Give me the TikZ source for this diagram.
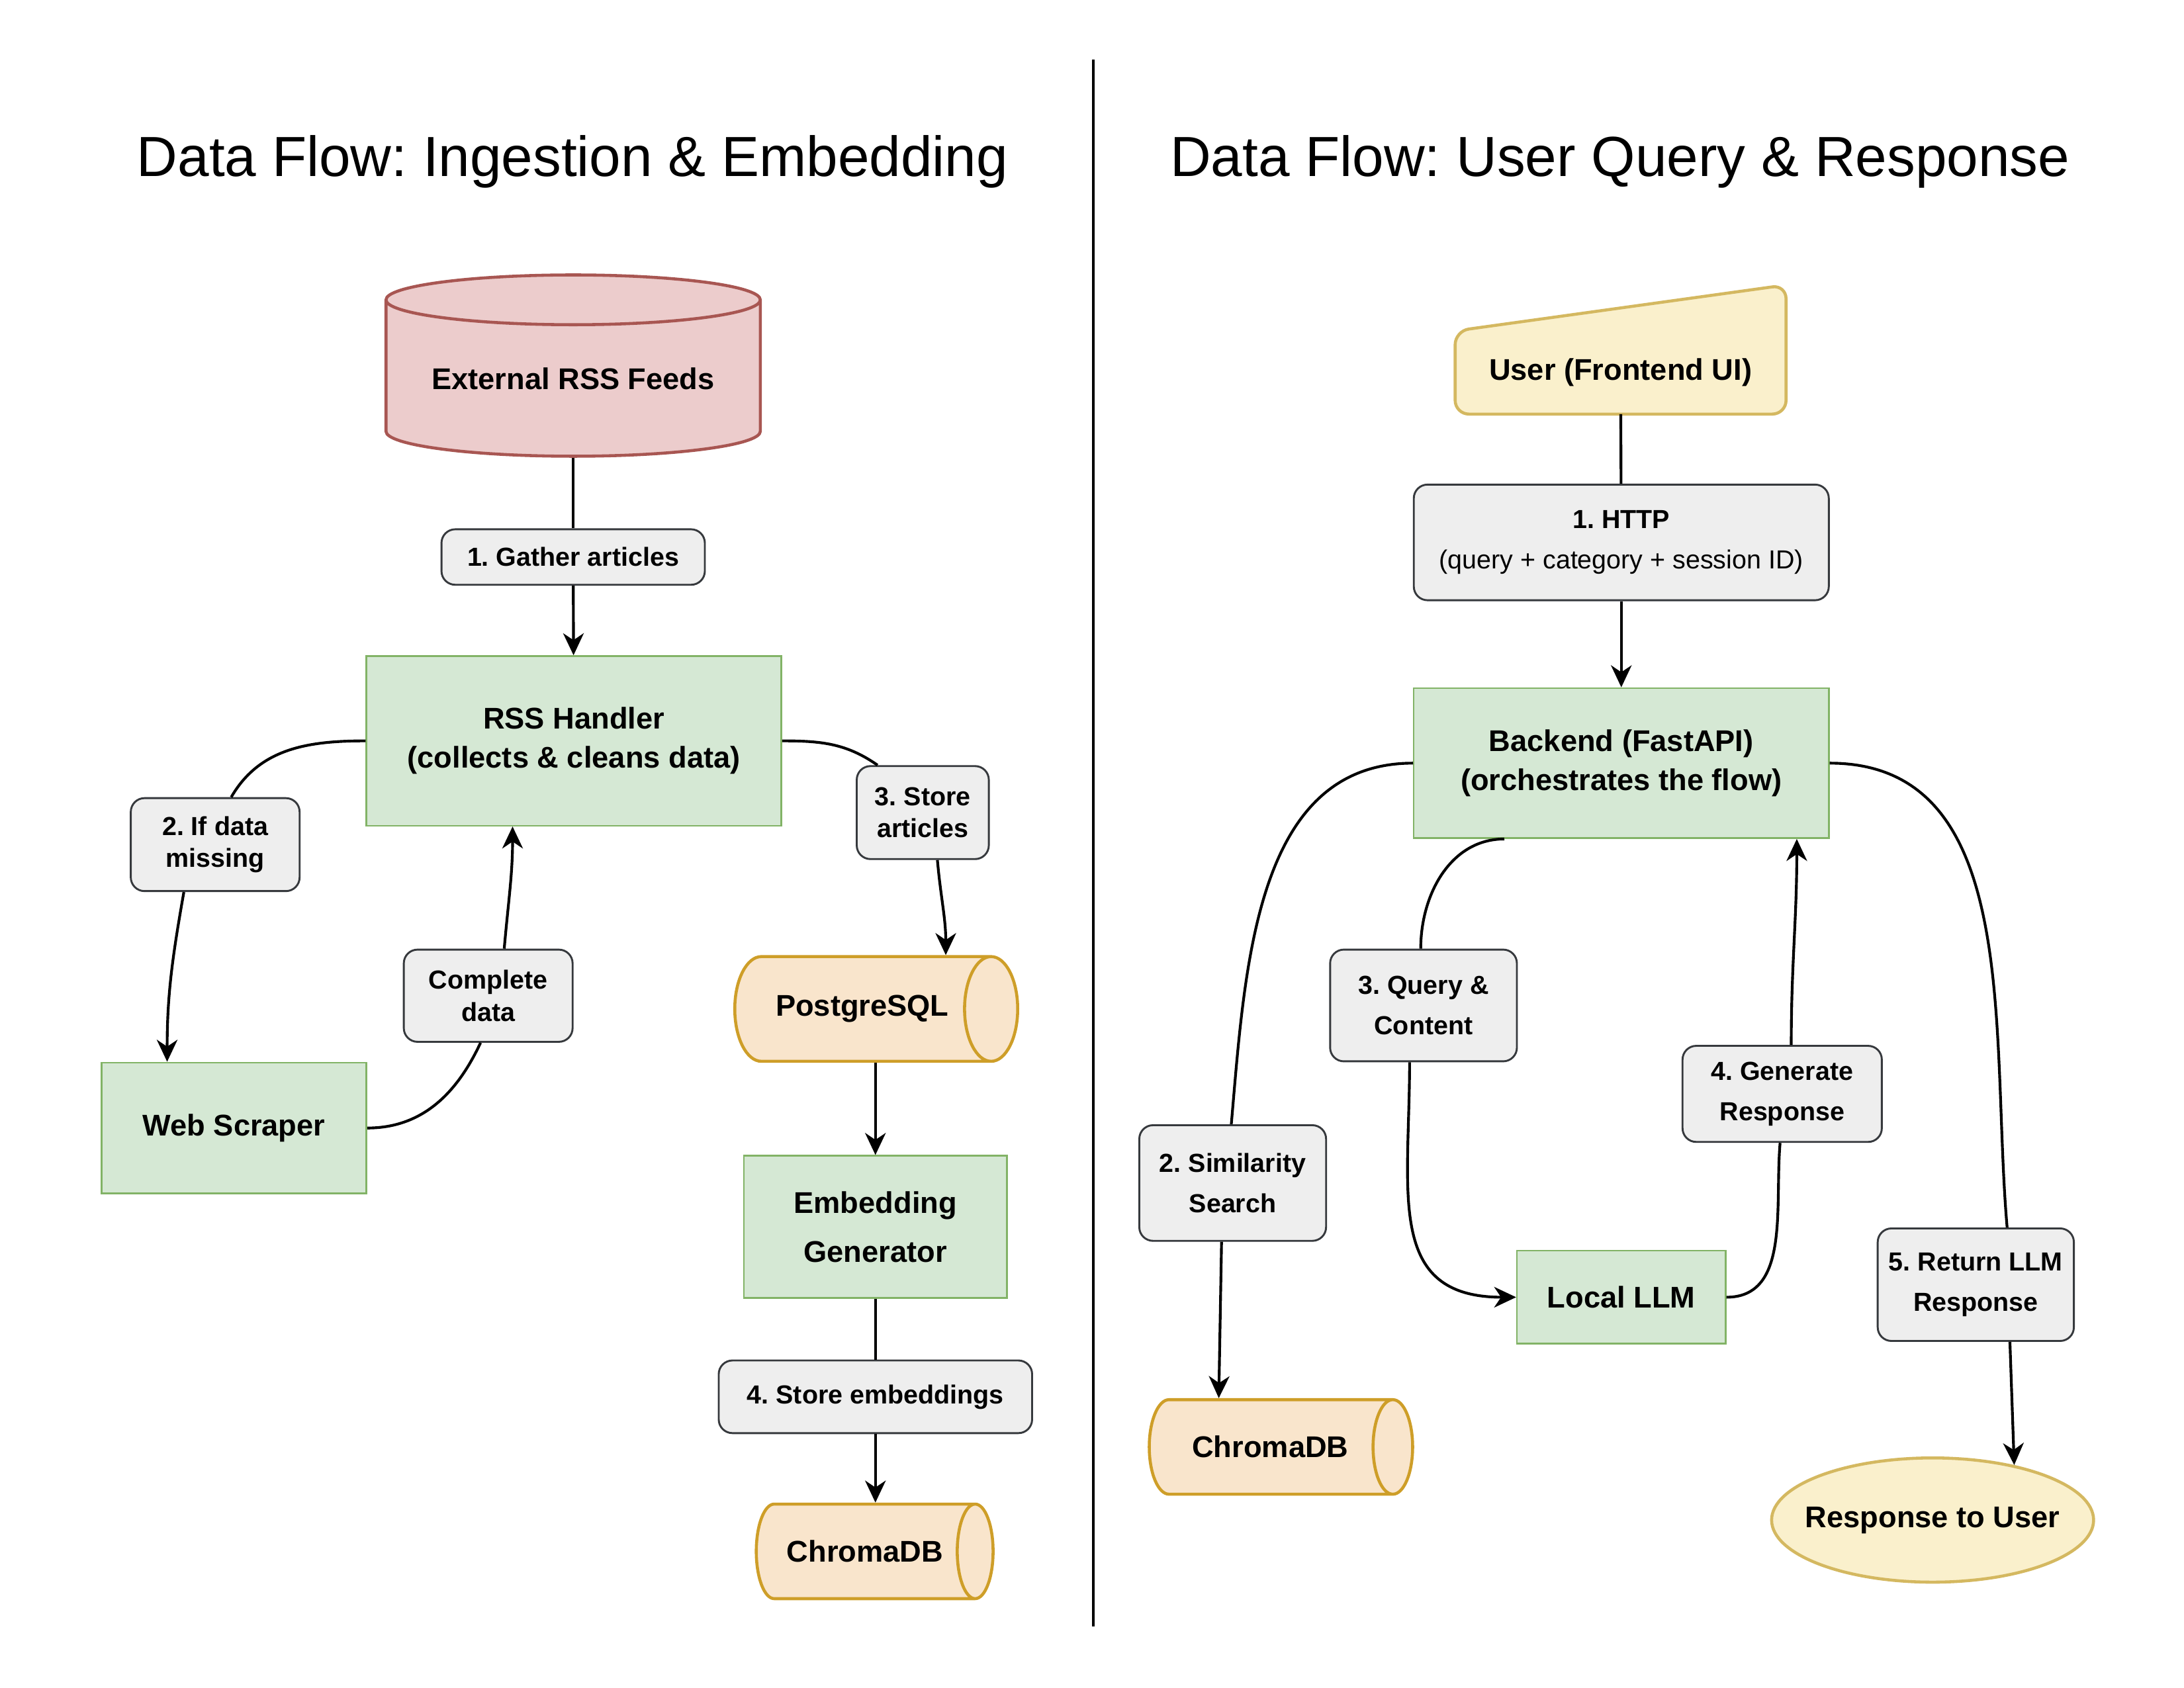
\documentclass[tikz,border=0pt]{standalone}
\usepackage{fontspec}
\setmainfont{Liberation Sans}
\usetikzlibrary{arrows.meta,shapes.geometric,calc,backgrounds}
\frenchspacing

\definecolor{procfill}{HTML}{D5E8D4}
\definecolor{procline}{HTML}{82B366}
\definecolor{feedfill}{RGB}{236,204,204}
\definecolor{feedline}{RGB}{168,86,82}
\definecolor{storefill}{RGB}{249,229,204}
\definecolor{storeline}{RGB}{206,158,40}
\definecolor{uifill}{RGB}{250,240,204}
\definecolor{uiline}{RGB}{212,184,96}
\definecolor{lblfill}{HTML}{EEEEEE}
\definecolor{lblline}{HTML}{36393D}

\begin{document}
\begin{tikzpicture}
      [x = 0.017819cm, y = -0.017819cm,
      flow/.style = {-{Stealth[length = 8pt, width = 7.5pt, inset = 2.5pt]}, line width = 1pt},
      link/.style = {line width = 1pt},
      heading/.style = {font = \fontsize{20.6}{24}\selectfont},
      proc/.style = {
         draw = procline,
         fill = procfill,
         line width = 0.6pt,
         align = center,
         inner sep = 0pt,
         font = \fontsize{10.9}{14.2}\selectfont\bfseries
      },
      store/.style = {
         cylinder,
         draw = storeline,
         fill = storefill,
         line width = 1.1pt,
         aspect = 1.95,
         inner sep = 0pt,
         font = \fontsize{10.9}{14.2}\selectfont\bfseries
      },
      lbl/.style = {
         draw = lblline,
         fill = lblfill,
         rounded corners = 5pt,
         line width = 0.7pt,
         align = center,
         inner sep = 0pt,
         font = \fontsize{9.5}{11.7}\selectfont\bfseries
      }]

      \useasboundingbox (0, 0) rectangle (1568, 1212);

      % divider
      \draw[line width = 1pt] (785, 43) -- (785, 1168);

      % ingestion side
      \node[heading] (ltitle) at (411, 116) {Data Flow: Ingestion \& Embedding};

      \node[store, draw = feedline, fill = feedfill, shape border rotate = 90,
         aspect = 0.176, minimum width = 4.79cm, minimum height = 2.32cm]
         (feeds) at (411.5, 272) {External RSS Feeds};
      \node[lbl, minimum width = 3.37cm, minimum height = 0.71cm]
         (gather) at (411.5, 400) {1. Gather articles};
      \node[proc, minimum width = 5.31cm, minimum height = 2.17cm]
         (rss) at (412, 532) {RSS Handler\\(collects \& cleans data)};
      \node[lbl, minimum width = 2.16cm, minimum height = 1.19cm]
         (ifmiss) at (154.5, 606.5) {2. If data\\missing};
      \node[proc, minimum width = 3.39cm, minimum height = 1.675cm]
         (scraper) at (168, 810) {Web Scraper};
      \node[lbl, minimum width = 2.16cm, minimum height = 1.18cm]
         (complete) at (350.5, 715) {Complete\\data};
      \node[lbl, minimum width = 1.69cm, minimum height = 1.19cm]
         (storeart) at (662.5, 583.5) {3. Store\\articles};
      \node[store, minimum width = 1.34cm, minimum height = 3.62cm]
         (pg) at (619, 724.5) {PostgreSQL};
      \node[proc, minimum width = 3.37cm, minimum height = 1.82cm]
         (embgen) at (628.5, 881) {Embedding\\[3.6pt]Generator};
      \node[lbl, minimum width = 4.01cm, minimum height = 0.93cm]
         (storeemb) at (628.5, 1003) {4. Store embeddings};
      \node[store, aspect = 1.63, minimum width = 1.21cm, minimum height = 3.03cm]
         (vecdb) at (621, 1114) {ChromaDB};

      \draw[link] (feeds) -- (gather);
      \draw[flow] (gather) -- (rss);
      \draw[link] (rss.west) to[out = 180, in = 60] ($(ifmiss.north)+(11.5, 0)$);
      \draw[flow] ($(ifmiss.south)+(-22.5, 0)$) to[out = -100, in = 90] ($(scraper.north)+(-48, 0)$);
      \draw[link] (scraper.east) to[out = 0, in = -115] ($(complete.south)+(-5.5, 0)$);
      \draw[flow] ($(complete.north)+(11.5, 0)$) to[out = 85, in = -90] ($(rss.south)+(-44, 0)$);
      \draw[link] (rss.east) to[out = 0, in = 145] ($(storeart.north)+(-32.5, 0)$);
      \draw[flow] ($(storeart.south)+(10.5, 0)$) to[out = -85, in = 90] ($(pg.north)+(60, 0)$);
      \draw[flow] (pg.south -| embgen.north) -- (embgen.north);
      \draw[link] (embgen) -- (storeemb);
      \draw[flow] (storeemb.south) -- (storeemb.south |- vecdb.north);

      % query side
      \node[heading] (rtitle) at (1163, 116) {Data Flow: User Query \& Response};

      \node[align = center, inner sep = 0pt, minimum width = 4.22cm, minimum height = 1.05cm,
         font = \fontsize{10.9}{14.2}\selectfont\bfseries]
         (user) at (1163.5, 267.5) {User (Frontend UI)};
      \begin{scope}[on background layer]
         \draw[draw = uiline, fill = uifill, line width = 1.1pt, rounded corners = 5pt]
            (user.south west) -- (user.north west) -- ($(user.north east)+(0, -33)$)
            -- (user.south east) -- cycle;
      \end{scope}
      \node[lbl, minimum width = 5.31cm, minimum height = 1.48cm]
         (http) at (1164, 389.5) {1. HTTP\\[3pt]{\mdseries (query + category + session ID)}};
      \node[proc, minimum width = 5.31cm, minimum height = 1.92cm]
         (backend) at (1164, 548) {Backend (FastAPI)\\(orchestrates the flow)};
      \node[lbl, minimum width = 2.39cm, minimum height = 1.48cm]
         (simsearch) at (885, 849.5) {2. Similarity\\[3pt]Search};
      \node[store, aspect = 1.8, minimum width = 1.21cm, minimum height = 3.37cm]
         (chroma) at (912, 1039) {ChromaDB};
      \node[lbl, minimum width = 2.39cm, minimum height = 1.43cm]
         (qcontent) at (1022, 722) {3. Query \&\\[3pt]Content};
      \node[proc, minimum width = 2.67cm, minimum height = 1.19cm]
         (local) at (1164, 931.5) {Local LLM};
      \node[lbl, minimum width = 2.55cm, minimum height = 1.23cm]
         (generate) at (1279.5, 785.5) {4. Generate\\[3pt]Response};
      \node[lbl, minimum width = 2.51cm, minimum height = 1.44cm]
         (retllm) at (1418.5, 922.5) {5. Return LLM\\[3pt]Response};
      \node[ellipse, draw = uiline, fill = uifill, line width = 1.1pt,
         inner ysep = 0pt, inner xsep = -0.18cm,
         minimum width = 4.12cm, minimum height = 1.59cm,
         font = \fontsize{10.9}{14.2}\selectfont\bfseries]
         (resp) at (1387.5, 1091.5) {Response to User};

      \draw[link] (user) -- (http);
      \draw[flow] (http) -- (backend);
      \draw[link] (backend.west) to[out = 180, in = 85] ($(simsearch.north)+(-1, 0)$);
      \draw[flow] ($(simsearch.south)+(-8, 0)$) -- ($(chroma.north)+(-37, 0)$);
      \draw[link] ($(backend.south)+(-84, 0)$) to[out = 180, in = 90] ($(qcontent.north)+(-2, 0)$);
      \draw[flow] ($(qcontent.south)+(-10, 0)$) to[out = -90, in = 180, looseness = 1.3] (local.west);
      \draw[link] (local.east) to[out = 0, in = -95] ($(generate.south)+(-1.5, 0)$);
      \draw[flow] ($(generate.north)+(6.5, 0)$) to[out = 90, in = -90] ($(backend.south)+(126, 0)$);
      \draw[link] (backend.east) to[out = 0, in = 95] ($(retllm.north)+(22.5, 0)$);
      \draw[flow] ($(retllm.south)+(24.5, 0)$) -- (resp.34);

   \end{tikzpicture}
\end{document}
